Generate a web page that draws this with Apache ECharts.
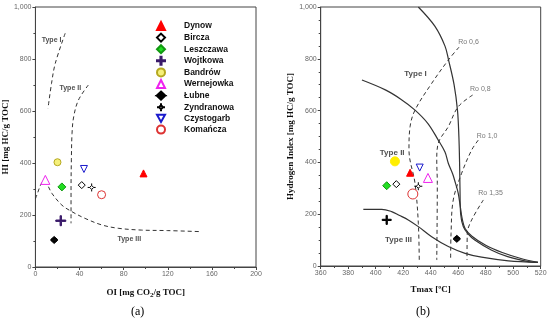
<!DOCTYPE html>
<html><head><meta charset="utf-8">
<script src="https://cdn.jsdelivr.net/npm/echarts@6/dist/echarts.min.js"></script>
<style>html,body{margin:0;padding:0;background:#fff}#c{width:550px;height:323px}</style>
</head><body><div id="c"></div>
<script>
// ---- Data ----
const samples = ['Dynow','Bircza','Leszczawa','Wojtkowa','Bandrów','Wernejowka','Łubne','Zyndranowa','Czystogarb','Komańcza'];
// panel (a): [OI, HI]
const oiValues = [98, 42, 24, 23, 20, 9, 17, 51, 44, 60];
const hiValuesA = [360, 315, 308, 178, 403, 335, 104, 306, 377, 278];
// panel (b): [Tmax, HI]
const tmaxValues = [425, 415, 408, 408, 414, 438, 459, 431, 432, 427];
const hiValuesB = [360, 316, 310, 178, 404, 340, 105, 308, 380, 278];

// panel (a) kerogen type boundaries [OI, HI]
const typeIBoundA = [[27,899],[18,783],[14.6,706],[11.4,610]];
const typeIIBoundA = [[48,700],[39,642],[34.7,578],[33.2,514],[32.6,412],[32.3,300],[32.3,168]];
const typeIIIBoundA = [[0,262],[2,285],[5,318],[8,332],[11,315],[15,283],[24,238],[33,213],[45,187],[60,162],[75,149],[96,142],[120,140],[150,136]];

// panel (b) kerogen type curves [Tmax, HI]
const typeICurveB = [[431,1000],[443,926],[450.4,849],[453,795],[457,700],[459.5,600],[460.5,500],[461,400],[461.3,300],[461.8,200],[463.7,152],[467,125],[472,100],[484,62],[496,36],[511,17],[518,14]];
const typeIICurveB = [[390,718],[407,680],[418,645],[428.6,602],[438,550],[445.5,486],[450.4,440],[452.8,397],[456,355],[458,320],[460,281],[461.5,230],[463,180],[465,145],[470,115],[480,80],[492,52],[505,30],[518,14]];
const typeIIICurveB = [[391,219],[404.4,219],[411.6,210],[417,196],[423.7,178],[431,152],[440.7,113],[452.8,75],[465,49],[477,34],[496.5,20],[518,14]];
// vitrinite reflectance iso-lines [Tmax, HI]
const ro06 = [[460.6,845],[452.8,795],[440.7,705],[428.6,602],[425,538],[424.2,448],[428.6,319],[431,165],[431.7,13]];
const ro08 = [[470.5,660],[460,615],[452.8,538],[445.5,474],[444.4,409],[444.8,319],[444.4,23]];
const ro10 = [[474.6,486],[469.8,448],[462.5,358],[456.4,255],[454.8,126],[454.5,23]];
const ro135 = [[478.3,255],[469.8,178],[466.6,126],[466.4,23]];

// text annotations [x, y, text]
const typeLabelsA = [[5.7,873,'Type I'],[21.8,687,'Type II'],[74.4,106,'Type III']];
const typeLabelsB = [[420.8,744,'Type I'],[403,439,'Type II'],[406.8,100,'Type III']];
const roLabels = [[460,864,'Ro 0,6'],[468.6,682,'Ro 0,8'],[473.5,502,'Ro 1,0'],[474.6,281,'Ro 1,35']];

// ---- Styles ----
const PLUS = 'path://M4.3,0H5.7V4.3H10V5.7H5.7V10H4.3V5.7H0V4.3H4.3Z';
const DOWNTRI = 'path://M0,0L10,0L5,9Z';
const HALFDIA = 'path://M5,0L10,4.6L0,4.6Z M0,5.8L10,5.8L5,10.4Z';
const CROSSDIA = 'path://M5,0L5,2.5M5,7.5L5,10M0,5L2.5,5M7.5,5L10,5M5,2.5L7.5,5L5,7.5L2.5,5Z';
const styleA = [
  {symbol:'triangle', size:7, color:'#ff0000', border:'#ff0000'},
  {symbol:'diamond', size:7, color:'#fff', border:'#000'},
  {symbol:'diamond', size:8, color:'#22dd22', border:'#119911'},
  {symbol:PLUS, size:10, color:'#3a1a6a', border:'#3a1a6a'},
  {symbol:'circle', size:7, color:'#f5f07a', border:'#b5a820'},
  {symbol:'triangle', size:9, color:'#fff', border:'#ee22ee'},
  {symbol:HALFDIA, size:7, color:'#000', border:'#000'},
  {symbol:CROSSDIA, size:8, color:'#fff', border:'#000'},
  {symbol:DOWNTRI, size:7, color:'#fff', border:'#1a1acc'},
  {symbol:'circle', size:8, color:'#fff', border:'#dd3333'}
];
const styleB = styleA.map((s,i)=>Object.assign({}, s));
styleB[3] = {symbol:PLUS, size:9, color:'#000', border:'#000'};
styleB[4] = {symbol:'circle', size:9, color:'#ffee00', border:'#ffee00'};
styleB[9] = {symbol:'circle', size:10, color:'#fff', border:'#dd3333'};

const tickLbl = {color:'#666', fontSize:7, fontFamily:'Arial'};
const nameStyle = {fontFamily:'Liberation Serif, Times New Roman, serif', fontWeight:'bold', fontSize:9, color:'#111'};
function axisCommon(){
  return {
    axisLine:{show:true, onZero:false, lineStyle:{color:'#444', width:1}},
    axisTick:{show:true, inside:false, length:3, lineStyle:{color:'#444'}},
    minorTick:{show:true, splitNumber:2, length:2, lineStyle:{color:'#444'}},
    splitLine:{show:false},
    axisLabel:Object.assign({margin:4}, tickLbl),
  };
}

const series = [];
samples.forEach((n,i)=>{
  const s = styleA[i];
  series.push({name:n, type:'scatter', xAxisIndex:0, yAxisIndex:0, symbol:s.symbol, symbolSize:s.size, z:5,
    itemStyle:{color:s.color, borderColor:s.border, borderWidth:1, opacity:1},
    data:[[oiValues[i], hiValuesA[i]]]});
});
samples.forEach((n,i)=>{
  const s = styleB[i];
  series.push({name:n, type:'scatter', xAxisIndex:1, yAxisIndex:1, symbol:s.symbol, symbolSize:s.size, z:5,
    itemStyle:{color:s.color, borderColor:s.border, borderWidth:1, opacity:1},
    data:[[tmaxValues[i], hiValuesB[i]]]});
});
function line(data, ax, dashed, w){
  return {type:'line', xAxisIndex:ax, yAxisIndex:ax, data:data, symbol:'none', smooth:0.35, silent:true,
    lineStyle:{color:'#333', width:w, type: dashed ? [4,3] : 'solid'}, z:2};
}
series.push(line(typeIBoundA,0,true,1));
series.push(line(typeIIBoundA,0,true,1));
series.push(line(typeIIIBoundA,0,true,1));
series.push(line(typeICurveB,1,false,1.2));
series.push(line(typeIICurveB,1,false,1.2));
series.push(line(typeIIICurveB,1,false,1.2));
series.push(line(ro06,1,true,1));
series.push(line(ro08,1,true,1));
series.push(line(ro10,1,true,1));
series.push(line(ro135,1,true,1));
function textSeries(arr, ax, bold, size, color){
  return {type:'scatter', xAxisIndex:ax, yAxisIndex:ax, symbolSize:0, silent:true, z:6,
    data:arr.map(a=>({value:[a[0],a[1]], name:a[2]})),
    label:{show:true, position:'right', distance:0, formatter:p=>p.name,
      fontFamily:'Arial', fontWeight: bold?'bold':'normal', fontSize:size, color:color}};
}
series.push(textSeries(typeLabelsA,0,true,7,'#222'));
series.push(textSeries(typeLabelsB,1,true,8,'#222'));
series.push(textSeries(roLabels,1,false,7,'#555'));

const chart = echarts.init(document.getElementById('c'), null, {renderer:'canvas'});
chart.setOption({
  animation:false,
  backgroundColor:'#fff',
  grid:[
    {left:33, top:7, width:223, height:260, show:true, borderColor:'#444', borderWidth:1, backgroundColor:'transparent'},
    {left:320.7, top:7, width:220, height:259, show:true, borderColor:'#444', borderWidth:1, backgroundColor:'transparent'}
  ],
  xAxis:[
    Object.assign(axisCommon(), {gridIndex:0, type:'value', min:0, max:200, interval:40,
      name:'OI [mg CO{s|2}/g TOC]', nameLocation:'middle', nameGap:20,
      nameTextStyle:Object.assign({rich:{s:Object.assign({}, nameStyle, {fontSize:7, padding:[5,0,0,0]})}}, nameStyle)}),
    Object.assign(axisCommon(), {gridIndex:1, type:'value', min:360, max:520, interval:20,
      name:'Tmax [ºC]', nameLocation:'middle', nameGap:19, nameTextStyle:nameStyle})
  ],
  yAxis:[
    Object.assign(axisCommon(), {gridIndex:0, type:'value', min:0, max:1000, interval:200,
      name:'HI [mg HC/g TOC]', nameLocation:'middle', nameGap:24, nameTextStyle:nameStyle}),
    Object.assign(axisCommon(), {gridIndex:1, type:'value', min:0, max:1000, interval:200,
      minorTick:{show:true, splitNumber:4, length:2, lineStyle:{color:'#444'}},
      name:'Hydrogen Index [mg HC/g TOC]', nameLocation:'middle', nameGap:23, nameTextStyle:nameStyle})
  ],
  legend:{
    orient:'vertical', left:151, top:16, itemWidth:8, itemHeight:8, itemGap:1.6,
    data:samples, selectedMode:false,
    textStyle:{fontFamily:'Arial', fontWeight:'bold', fontSize:8.5, color:'#111', padding:[0,0,0,14], lineHeight:9}
  },
  graphic:[
    {type:'text', left:131, top:306, style:{text:'(a)', fontFamily:'Liberation Serif, serif', fontSize:12, fill:'#000'}},
    {type:'text', left:416, top:306, style:{text:'(b)', fontFamily:'Liberation Serif, serif', fontSize:12, fill:'#000'}}
  ],
  series:series
});
</script></body></html>
